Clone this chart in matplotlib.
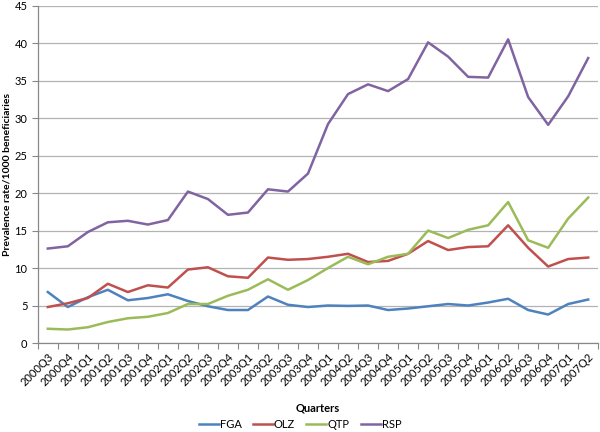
import numpy as np
import matplotlib
matplotlib.use("Agg")
import matplotlib.pyplot as plt

plt.rcParams['font.family'] = ['Lato', 'DejaVu Sans']

quarters = ['2000Q3', '2000Q4', '2001Q1', '2001Q2', '2001Q3', '2001Q4', '2002Q1',
            '2002Q2', '2002Q3', '2002Q4', '2003Q1', '2003Q2', '2003Q3', '2003Q4',
            '2004Q1', '2004Q2', '2004Q3', '2004Q4', '2005Q1', '2005Q2', '2005Q3',
            '2005Q4', '2006Q1', '2006Q2', '2006Q3', '2006Q4', '2007Q1', '2007Q2']

fga = [6.8, 4.8, 6.1, 7.1, 5.7, 6.0, 6.5, 5.6, 4.9, 4.4, 4.4, 6.2, 5.1, 4.8,
       5.0, 4.95, 5.0, 4.4, 4.6, 4.9, 5.2, 5.0, 5.4, 5.9, 4.4, 3.8, 5.2, 5.8]
olz = [4.8, 5.3, 6.0, 7.9, 6.8, 7.7, 7.4, 9.8, 10.1, 8.9, 8.7, 11.4, 11.1, 11.2,
       11.5, 11.9, 10.8, 10.95, 11.9, 13.6, 12.4, 12.8, 12.9, 15.7, 12.7, 10.2, 11.2, 11.4]
qtp = [1.9, 1.8, 2.1, 2.8, 3.3, 3.5, 4.0, 5.2, 5.2, 6.3, 7.1, 8.5, 7.1, 8.4,
       10.0, 11.5, 10.5, 11.5, 11.9, 15.0, 14.0, 15.1, 15.7, 18.8, 13.7, 12.7, 16.6, 19.4]
rsp = [12.6, 12.9, 14.8, 16.1, 16.3, 15.8, 16.4, 20.2, 19.2, 17.1, 17.4, 20.5, 20.2, 22.6,
       29.2, 33.2, 34.5, 33.6, 35.2, 40.1, 38.2, 35.5, 35.4, 40.5, 32.8, 29.1, 32.9, 38.0]

series = [('FGA', fga, '#4F81BD'), ('OLZ', olz, '#C0504D'),
          ('QTP', qtp, '#9BBB59'), ('RSP', rsp, '#8064A2')]

fig = plt.figure(figsize=(6, 4.32), dpi=100)
ax = fig.add_axes([0.063, 0.206, 0.934, 0.781])

x = np.arange(len(quarters))
for name, vals, col in series:
    ax.plot(x, vals, color=col, lw=1.8, label=name)

ax.set_xlim(-0.5, len(quarters) - 0.5)
ax.set_ylim(0, 45)
ax.set_yticks(np.arange(0, 46, 5))
ax.yaxis.grid(True, color='#b3b3b3', lw=0.9)
ax.set_axisbelow(True)

ax.set_xticks(x)
ax.set_xticklabels(quarters, rotation=45, ha='right', rotation_mode='anchor', fontsize=8)
ax.tick_params(axis='x', which='major', length=0, pad=6)
ax.set_xticks(np.arange(-0.5, len(quarters), 1), minor=True)
ax.tick_params(axis='x', which='minor', length=4, color='#888888', width=0.8)
ax.tick_params(axis='y', length=4, color='#888888', width=0.8, labelsize=8, pad=3.5)

for s in ['top', 'right']:
    ax.spines[s].set_visible(False)
for s in ['left', 'bottom']:
    ax.spines[s].set_color('#888888')
    ax.spines[s].set_linewidth(0.9)

ax.set_ylabel('Prevalence rate/1000 beneficiaries', fontsize=7.5, fontweight='bold')
ax.yaxis.set_label_coords(-0.047, 0.5)
ax.set_xlabel('Quarters', fontsize=8, fontweight='bold', labelpad=10)

fig.legend(loc='center', bbox_to_anchor=(0.5, 0.018), ncol=4, frameon=False, fontsize=8,
           handlelength=1.8, handletextpad=0.1, columnspacing=1.0)

fig.savefig('out.png', dpi=100)
